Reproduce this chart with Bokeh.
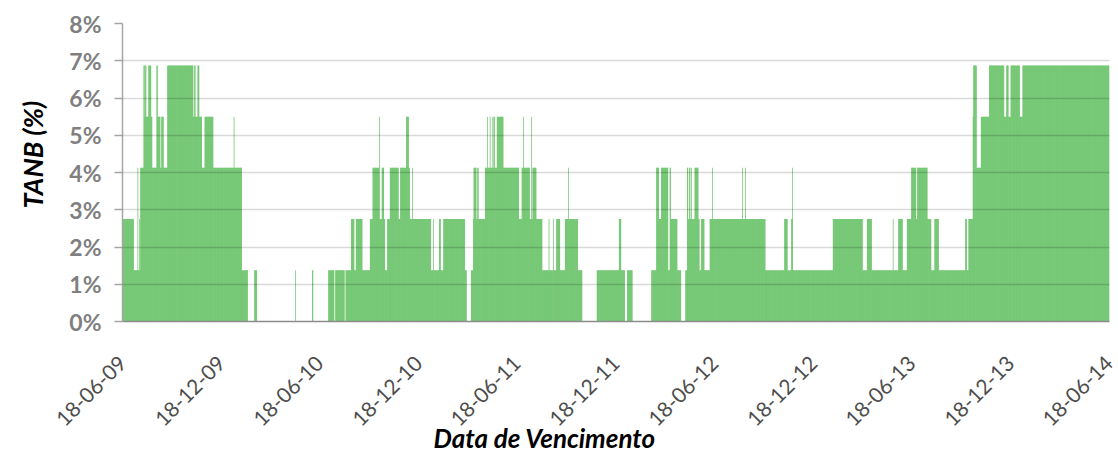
import math
import numpy as np
import pandas as pd
from bokeh.plotting import figure
from bokeh.models import ColumnDataSource, FixedTicker, Range1d, Title
from bokeh.embed import file_html
from bokeh.resources import INLINE

# ---- data ----
start_date = "2009-06-18"
end_date = "2014-06-18"

# day offset (from start_date) where a new rate level begins, and that rate in %
seg_start_day = [
    0, 21, 28, 29, 31, 32, 33, 39, 41, 42, 44, 48, 53, 55, 63, 65, 70, 72, 76, 83,
    131, 133, 135, 139, 142, 147, 152, 168, 206, 207, 221, 232, 244, 249, 320, 321,
    351, 353, 381, 392, 394, 411, 413, 423, 429, 432, 444, 458, 463, 475, 476, 480,
    484, 486, 490, 495, 511, 514, 525, 530, 532, 536, 537, 571, 575, 576, 586, 589,
    594, 634, 637, 645, 649, 650, 655, 657, 659, 671, 675, 676, 680, 681, 685, 686,
    687, 689, 693, 705, 734, 739, 742, 743, 754, 757, 758, 759, 766, 777, 789, 790,
    797, 798, 803, 810, 819, 825, 826, 843, 851, 878, 919, 923, 930, 934, 944, 979,
    988, 993, 997, 1010, 1013, 1015, 1027, 1034, 1042, 1045, 1047, 1049, 1051, 1053,
    1054, 1059, 1066, 1068, 1071, 1077, 1087, 1092, 1093, 1147, 1148, 1153, 1154,
    1190, 1225, 1231, 1238, 1240, 1241, 1315, 1370, 1378, 1387, 1426, 1427, 1436,
    1444, 1452, 1460, 1469, 1471, 1490, 1497, 1503, 1511, 1560, 1563, 1566, 1574,
    1575, 1581, 1589, 1604, 1632, 1636, 1640, 1644, 1661, 1666,
]
seg_rate = [
    2.75, 1.375, 4.125, 1.375, 2.75, 1.375, 4.125, 6.875, 5.5, 6.875, 5.5, 6.875, 5.5, 4.125, 6.875, 5.5, 4.125, 5.5, 4.125, 6.875,
    5.5, 6.875, 5.5, 6.875, 5.5, 4.125, 5.5, 4.125, 5.5, 4.125, 1.375, 0, 1.375, 0, 1.375, 0,
    1.375, 0, 1.375, 0, 1.375, 0, 1.375, 2.75, 1.375, 2.75, 1.375, 2.75, 4.125, 5.5, 2.75, 4.125,
    2.75, 1.375, 2.75, 4.125, 2.75, 4.125, 5.5, 4.125, 2.75, 4.125, 2.75, 1.375, 2.75, 1.375, 2.75, 1.375,
    2.75, 1.375, 0, 1.375, 2.75, 4.125, 2.75, 4.125, 2.75, 4.125, 5.5, 4.125, 5.5, 4.125, 5.5, 4.125,
    5.5, 4.125, 5.5, 4.125, 2.75, 4.125, 5.5, 4.125, 2.75, 5.5, 2.75, 4.125, 2.75, 1.375, 2.75, 1.375,
    2.75, 1.375, 2.75, 1.375, 2.75, 4.125, 2.75, 1.375, 0, 1.375, 2.75, 1.375, 0, 1.375, 0, 1.375,
    4.125, 2.75, 4.125, 1.375, 4.125, 2.75, 1.375, 0, 1.375, 4.125, 2.75, 4.125, 2.75, 4.125,
    2.75, 4.125, 2.75, 1.375, 2.75, 1.375, 2.75, 4.125, 2.75, 4.125, 2.75, 4.125, 2.75,
    1.375, 2.75, 1.375, 2.75, 4.125, 1.375, 2.75, 1.375, 2.75, 1.375, 2.75, 1.375, 2.75,
    1.375, 2.75, 4.125, 2.75, 4.125, 2.75, 1.375, 2.75, 1.375, 2.75, 1.375, 2.75, 5.5,
    6.875, 4.125, 5.5, 6.875, 5.5, 6.875, 5.5, 6.875, 5.5, 6.875,
]

x_tick_labels = ["18-06-09", "18-12-09", "18-06-10", "18-12-10", "18-06-11", "18-12-11",
                 "18-06-12", "18-12-12", "18-06-13", "18-12-13", "18-06-14"]
y_ticks = [0, 1, 2, 3, 4, 5, 6, 7, 8]
y_tick_labels = ["0%", "1%", "2%", "3%", "4%", "5%", "6%", "7%", "8%"]
x_title = "Data de Vencimento"
y_title = "TANB (%)"

# ---- expand segments into one bar per day ----
t0 = pd.Timestamp(start_date)
n_days = (pd.Timestamp(end_date) - t0).days + 1
rates = np.zeros(n_days)
for i, s in enumerate(seg_start_day):
    e = seg_start_day[i + 1] if i + 1 < len(seg_start_day) else n_days
    rates[s:e] = seg_rate[i]
days = np.arange(n_days)
mask = rates > 0
src = ColumnDataSource(dict(x=days[mask] + 0.5, top=rates[mask]))

tick_days = [int((pd.to_datetime(t, format="%d-%m-%y") - t0).days) for t in x_tick_labels]

p = figure(width=1118, height=454, output_backend="svg", toolbar_location=None,
           x_range=Range1d(0, n_days), y_range=Range1d(0, 8),
           min_border_left=122, min_border_right=9, min_border_top=23, min_border_bottom=133)
p.outline_line_color = None
p.background_fill_color = "white"

p.xgrid.visible = False
p.ygrid.grid_line_color = "black"
p.ygrid.grid_line_alpha = 0.15
p.ygrid.grid_line_width = 1.5
p.ygrid.level = "overlay"

p.vbar(x="x", top="top", width=1.15, bottom=0, source=src,
       fill_color="#56bb56", fill_alpha=1.0, line_color=None)

# y axis
p.yaxis.ticker = FixedTicker(ticks=y_ticks)
p.yaxis.major_label_overrides = dict(zip(y_ticks, y_tick_labels))
p.yaxis.major_label_text_font = "Lato"
p.yaxis.major_label_text_font_style = "bold"
p.yaxis.major_label_text_font_size = "23px"
p.yaxis.major_label_text_color = "#7f7f7f"
p.yaxis.major_tick_out = 8
p.yaxis.major_tick_in = 0
p.yaxis.minor_tick_out = 0
p.yaxis.minor_tick_in = 0
p.yaxis.major_tick_line_color = "#a6a6a6"
p.yaxis.major_tick_line_width = 1.5
p.yaxis.axis_line_color = "#a6a6a6"
p.yaxis.axis_line_width = 1.5
p.yaxis.major_label_standoff = 13

# x axis
p.xaxis.ticker = FixedTicker(ticks=tick_days)
p.xaxis.major_label_overrides = dict(zip(tick_days, x_tick_labels))
p.xaxis.major_label_orientation = math.pi / 4
p.xaxis.major_label_text_font = "Lato"
p.xaxis.major_label_text_font_size = "21px"
p.xaxis.major_label_text_color = "#4d4d4d"
p.xaxis.major_tick_out = 0
p.xaxis.major_tick_in = 0
p.xaxis.minor_tick_out = 0
p.xaxis.minor_tick_in = 0
p.xaxis.axis_line_color = "#8c8c8c"
p.xaxis.axis_line_width = 1.5
p.xaxis.major_label_standoff = 38

# axis titles
xt = Title(text=x_title, align="left", offset=311, standoff=-31, vertical_align="bottom",
           text_font="Lato", text_font_style="bold italic", text_font_size="26px",
           text_color="black")
p.add_layout(xt, "below")
yt = Title(text=y_title, align="left", offset=113, standoff=31, vertical_align="top",
           text_font="Lato", text_font_style="bold italic", text_font_size="27px",
           text_color="black")
p.add_layout(yt, "left")

open("out.html", "w").write(file_html(p, INLINE))
